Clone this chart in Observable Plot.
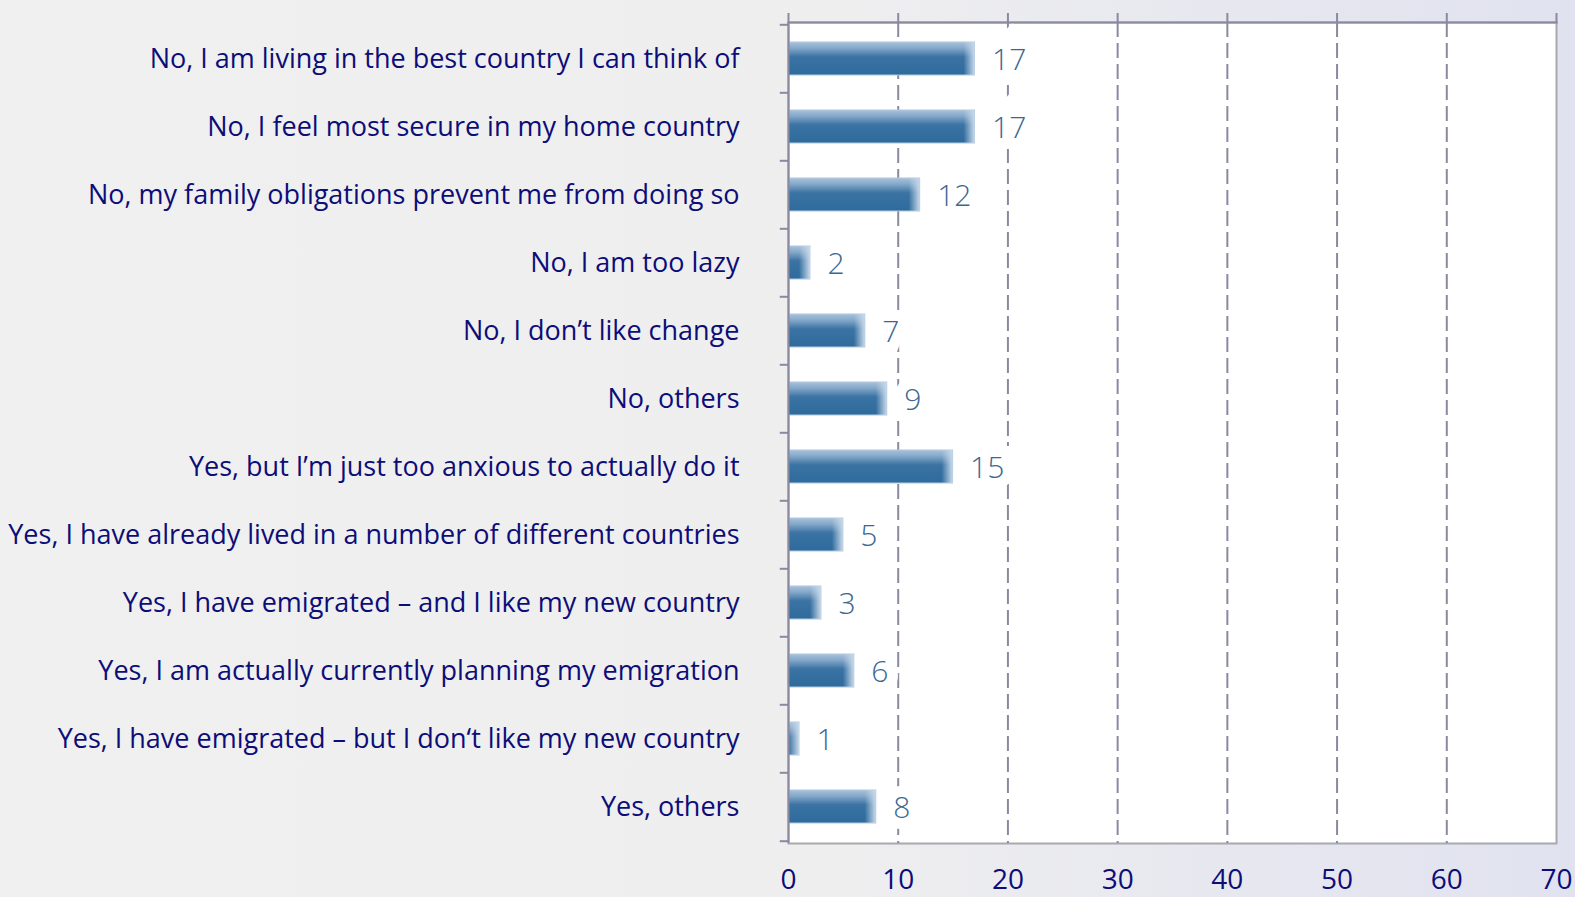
<!DOCTYPE html>
<html>
<head>
<meta charset="utf-8">
<script src="https://cdn.jsdelivr.net/npm/d3@7"></script>
<script src="https://cdn.jsdelivr.net/npm/@observablehq/plot@0.6"></script>
<style>
  html, body { margin: 0; padding: 0; }
  body {
    width: 1575px; height: 897px; overflow: hidden;
    background: linear-gradient(to right, #f0f0f0 0%, #eeeeef 55%, #e0e2ef 100%);
  }
  #chart svg { display: block; background: transparent; }
</style>
</head>
<body>
<div id="chart"></div>
<script>
const categories = [
  "No, I am living in the best country I can think of",
  "No, I feel most secure in my home country",
  "No, my family obligations prevent me from doing so",
  "No, I am too lazy",
  "No, I don\u2019t like change",
  "No, others",
  "Yes, but I\u2019m just too anxious to actually do it",
  "Yes, I have already lived in a number of different countries",
  "Yes, I have emigrated \u2013 and I like my new country",
  "Yes, I am actually currently planning my emigration",
  "Yes, I have emigrated \u2013 but I don\u2018t like my new country",
  "Yes, others"
];
const values = [17, 17, 12, 2, 7, 9, 15, 5, 3, 6, 1, 8];
const xTicks = [0, 10, 20, 30, 40, 50, 60, 70];
const gridTicks = [10, 20, 30, 40, 50, 60];

const data = categories.map((c, i) => ({category: c, value: values[i]}));

const FONT = "'Open Sans', sans-serif";
const NAVY = "#0d0d78";
const AXIS = "#8a89a0";

const defs = () => {
  const d = d3.create("svg:defs");
  const v = d.append("linearGradient").attr("id", "barV").attr("x1", 0).attr("y1", 0).attr("x2", 0).attr("y2", 1);
  v.append("stop").attr("offset", "0%").attr("stop-color", "#a8c2db");
  v.append("stop").attr("offset", "18%").attr("stop-color", "#86a9ca");
  v.append("stop").attr("offset", "45%").attr("stop-color", "#3a73a4");
  v.append("stop").attr("offset", "100%").attr("stop-color", "#2f6a9c");
  const h = d.append("linearGradient").attr("id", "barH").attr("x1", 0).attr("y1", 0).attr("x2", 1).attr("y2", 0);
  h.append("stop").attr("offset", "0%").attr("stop-color", "#c4d6e8").attr("stop-opacity", 0);
  h.append("stop").attr("offset", "100%").attr("stop-color", "#c8d9ea").attr("stop-opacity", 1);
  return d.node();
};

const labelOpts = {x: "value", y: "category", text: d => String(d.value), textAnchor: "start", dx: 17, dy: 1, fontSize: 30, fontWeight: 300};

const chart = Plot.plot({
  width: 1575,
  height: 897,
  marginLeft: 788,
  marginRight: 19,
  marginTop: 22,
  marginBottom: 54,
  style: {background: "transparent", fontFamily: FONT, overflow: "visible"},
  x: {domain: [0, 70], label: null},
  y: {domain: categories, paddingInner: 0.52, paddingOuter: 0.26, align: 0.5, label: null},
  marks: [
    defs,
    Plot.frame({fill: "white", stroke: "#a8a8ae", strokeWidth: 2}),
    Plot.gridX(gridTicks, {stroke: AXIS, strokeOpacity: 1, strokeWidth: 2, strokeDasharray: "15,6"}),
    Plot.text(data, {...labelOpts, fill: "white", stroke: "white", strokeWidth: 22, strokeLinejoin: "miter"}),
    Plot.barX(data, {x: "value", y: "category", fill: "url(#barV)", stroke: "#b0c8df", strokeWidth: 1}),
    Plot.barX(data, {x1: d => Math.max(0, d.value - 1), x2: "value", y: "category", fill: "url(#barH)"}),
    Plot.text(data, {...labelOpts, fill: "#3b6891"}),
    Plot.ruleY(categories, {y: d => d, x1: -0.75, x2: 0, dy: -34.2, stroke: AXIS, strokeWidth: 2}),
    Plot.ruleY(categories.slice(-1), {y: d => d, x1: -0.75, x2: 0, dy: 34.2, stroke: AXIS, strokeWidth: 2}),
    Plot.ruleX([0], {stroke: AXIS, strokeWidth: 2}),
    Plot.frame({anchor: "top", stroke: AXIS, strokeWidth: 2}),
    Plot.axisX(xTicks, {anchor: "top", tickSize: 10, tickFormat: () => "", label: null, stroke: AXIS, strokeWidth: 2, strokeOpacity: 1}),
    Plot.axisX(xTicks, {anchor: "bottom", tickSize: 0, tickPadding: 26, fontSize: 28, fontWeight: 500, fill: NAVY, label: null}),
    Plot.axisY({anchor: "left", tickSize: 0, tickPadding: 49, fontSize: 27, fill: NAVY, label: null})
  ]
});
document.getElementById("chart").appendChild(chart);
</script>
</body>
</html>
